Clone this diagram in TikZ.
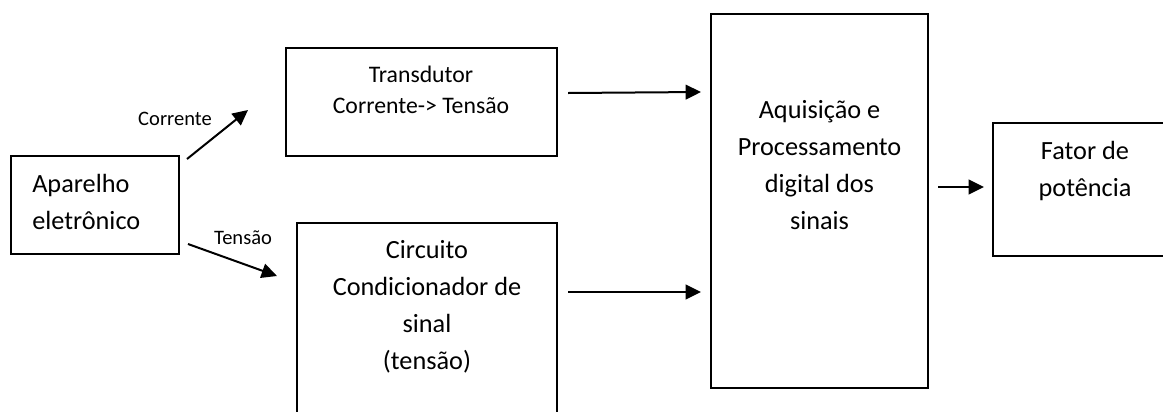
\documentclass[tikz,border=0pt]{standalone}
\usepackage{fontspec}
\setmainfont{Carlito}
\usetikzlibrary{arrows.meta,calc}

\begin{document}
\begin{tikzpicture}[x=0.75pt,y=-0.75pt,
  box/.style={draw, line width=1.5pt, inner sep=0pt},
  conn/.style={line width=1.5pt, -{Triangle[length=11.5pt,width=11pt]}},
  txt/.style={inner sep=0pt, anchor=base},
  big/.style={font=\fontsize{19.7}{27.75}\selectfont},
  mid/.style={font=\fontsize{17.8}{23.5}\selectfont},
  small/.style={font=\fontsize{15.4}{18}\selectfont}]
\useasboundingbox (0,0) rectangle (1163,411);

% blocks
\node[box, minimum width=126pt,    minimum height=73.5pt]  (ap) at (95,205) {};
\node[box, minimum width=203.25pt, minimum height=81pt]    (tr) at (421.5,102) {};
\node[box, minimum width=195pt,    minimum height=155.25pt](ci) at (427,326.5) {};
\node[box, minimum width=162.75pt, minimum height=280.5pt] (aq) at (819.5,201) {};
\node[box, minimum width=140.25pt, minimum height=99.75pt] (fa) at (1086.5,189.5) {};

% block texts (anchored on the baseline of their last line)
\node[txt, big, align=left, anchor=base west] (apt) at (32,229) {Aparelho\\eletrônico};
\node[txt, mid, align=center] (trt) at (421,113.5) {Transdutor\\Corrente-> Tensão};
\node[txt, big, align=center] (cit) at (427,369) {Circuito\\Condicionador de\\sinal\\(tensão)};
\node[txt, big, align=center] (aqt) at (819.5,229) {Aquisição e\\Processamento\\digital dos\\sinais};
\node[txt, big, align=center] (fat) at (1085,196) {Fator de\\potência};

% signal labels
\node[txt, small] (lc) at (175,125) {Corrente};
\node[txt, small] (lt) at (243,244) {Tensão};

% connectors
\draw[conn] ($(ap.north east)+(7,4)$) -- ($(tr.south west)+(-37,-47)$);
\draw[conn] ($(ap.south east)+(8,-11)$) -- ($(ci.north west)+(-19,54)$);
\draw[conn] ($(tr.east)+(10,-9)$) -- ($(aq.north west)+(-9,79)$);
\draw[conn] ($(ci.north east)+(10,70)$) -- ($(aq.north west)+(-9,279)$);
\draw[conn] ($(aq.north east)+(9,174)$) -- ($(fa.north west)+(-8,65)$);
\end{tikzpicture}
\end{document}
